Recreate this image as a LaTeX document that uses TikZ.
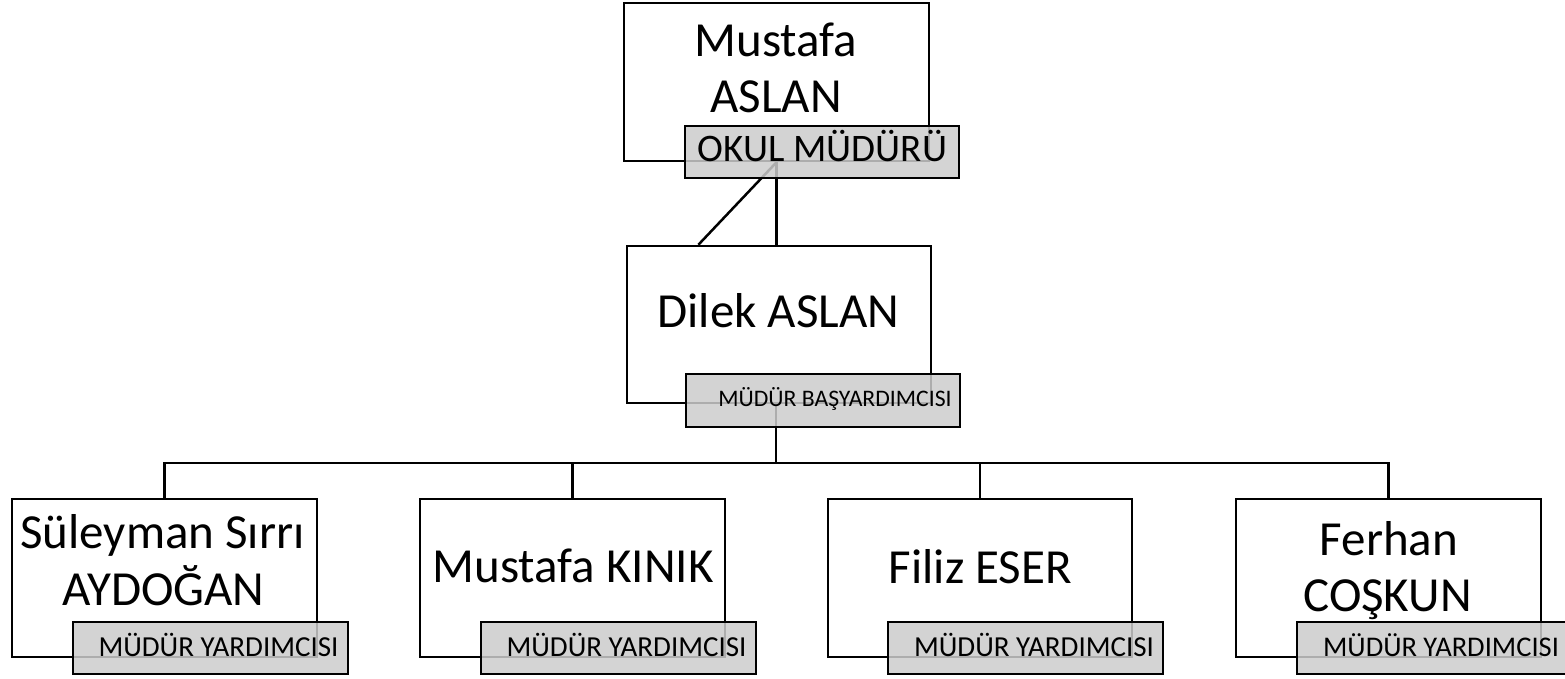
\documentclass[tikz,border=0pt]{standalone}
\usepackage{fontspec}
\setmainfont{Carlito}
\usetikzlibrary{calc}
\begin{document}
\begin{tikzpicture}[x=1pt,y=-1pt,
  box/.style={draw=black, line width=2.5pt, fill=white, inner sep=0pt, minimum width=305pt, minimum height=158pt},
  lab/.style={draw=black, line width=2.5pt, fill=black!20, fill opacity=0.85, draw opacity=1, inner sep=0pt, minimum width=275pt, minimum height=52pt},
  pname/.style={anchor=base, inner sep=0pt, font=\fontsize{49}{56}\selectfont},
  prole/.style={anchor=base, inner sep=0pt},
  conn/.style={draw=black, line width=2.5pt}]
\useasboundingbox (0,0) rectangle (1565,679);
% boxes
\node[box] (n0) at (776.5,82) {};
\node[box, minimum width=304pt, minimum height=157pt] (n1) at (779,324.5) {};
\node[box] (b1) at (164.5,578) {};
\node[box] (b2) at (572.5,578) {};
\node[box, minimum width=304pt] (b3) at (980,578) {};
\node[box] (b4) at (1388.5,578) {};
% connectors
\coordinate (bus) at (776,463);
\draw[conn] (n0.south) -- (n0.south |- n1.north);
\draw[conn] (n0.south) -- ($(n1.north west)!0.237!(n1.north east)$);
\draw[conn] (n1.south -| bus) -- (bus);
\draw[conn] (b1.north) |- (bus) -| (b4.north);
\draw[conn] (b2.north) -- (b2.north |- bus);
\draw[conn] (b3.north) -- (b3.north |- bus);
% role labels
\node[lab, minimum width=274pt] (l0) at (822,152) {};
\node[lab, minimum width=274pt, minimum height=53pt] (l1) at (823,400.5) {};
\node[lab] (l2) at (210.5,648) {};
\node[lab] (l3) at (618.5,648) {};
\node[lab] (l4) at (1025.5,648) {};
\node[lab] (l5) at (1434.5,648) {};
% names
\node[pname] (t0a) at (776,57) {Mustafa};
\node[pname] (t0b) at (776,113) {ASLAN};
\node[pname] (t1) at (778.5,327) {Dilek ASLAN};
\node[pname] (t2a) at (162.5,548) {Süleyman Sırrı};
\node[pname] (t2b) at (163.5,605) {AYDOĞAN};
\node[pname] (t3) at (573,582) {Mustafa KINIK};
\node[pname] (t4) at (980.5,583) {Filiz ESER};
\node[pname] (t5a) at (1389,555) {Ferhan};
\node[pname] (t5b) at (1387.5,611) {COŞKUN};
% role texts
\node[prole, font=\fontsize{39}{44}\selectfont] (r0) at (822.5,162) {OKUL MÜDÜRÜ};
\node[prole, font=\fontsize{23.7}{28}\selectfont] (r1) at (835,406.5) {MÜDÜR BAŞYARDIMCISI};
\node[prole, font=\fontsize{29}{34}\selectfont] (r2) at (218.5,656.5) {MÜDÜR YARDIMCISI};
\node[prole, font=\fontsize{29}{34}\selectfont] (r3) at (626.5,656.5) {MÜDÜR YARDIMCISI};
\node[prole, font=\fontsize{29}{34}\selectfont] (r4) at (1034,656.5) {MÜDÜR YARDIMCISI};
\node[prole, font=\fontsize{28.5}{33}\selectfont] (r5) at (1441,656.5) {MÜDÜR YARDIMCISI};
\end{tikzpicture}
\end{document}
